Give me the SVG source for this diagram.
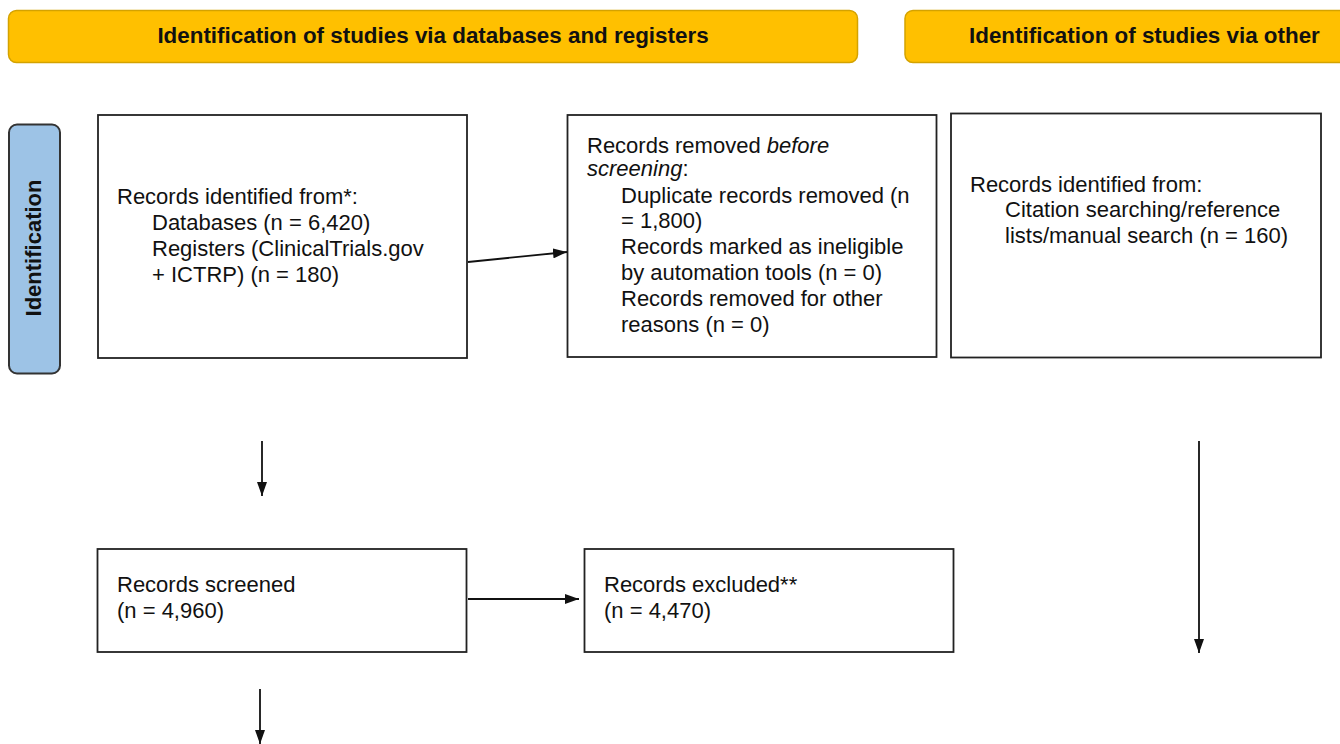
<svg xmlns="http://www.w3.org/2000/svg" width="1340" height="744" viewBox="0 0 1340 744">
<style>
.hdr{fill:#FFC000;stroke:#D4A200;stroke-width:1.5}
.side{fill:#9DC3E6;stroke:#333;stroke-width:2}
.box{fill:#fff;stroke:#222;stroke-width:1.8}
.ht{font-family:"Liberation Sans",Arial,sans-serif;font-weight:bold;font-size:22.4px;fill:#111}
.t{font-family:"Liberation Sans",Arial,sans-serif;font-size:22px;fill:#111}
.con line{stroke:#111;stroke-width:1.8;fill:none}
</style>
<defs>
<marker id="ah" viewBox="0 0 14 10" refX="14" refY="5" markerWidth="14" markerHeight="10" markerUnits="userSpaceOnUse" orient="auto">
<path d="M0,0 L14,5 L0,10 Z" fill="#111"/>
</marker>
</defs>
<rect width="1340" height="744" fill="#fff"/>
<g id="header-databases">
<rect class="hdr" x="8.5" y="10.5" width="849" height="52" rx="8"/>
<text class="ht" x="433" y="42.5" text-anchor="middle">Identification of studies via databases and registers</text>
</g>
<g id="header-other">
<rect class="hdr" x="905" y="10.5" width="460" height="52" rx="8"/>
<text class="ht" x="969" y="42.5">Identification of studies via other</text>
</g>
<g id="side-identification">
<rect class="side" x="9" y="124.5" width="51" height="249" rx="8"/>
<text class="ht" transform="translate(41,248) rotate(-90)" text-anchor="middle" style="font-size:22px">Identification</text>
</g>
<g id="records-identified">
<rect class="box" x="98" y="115" width="369" height="243"/>
<text class="t"><tspan x="117" y="204">Records identified from*:</tspan><tspan x="152" y="230">Databases (n = 6,420)</tspan><tspan x="152" y="256">Registers (ClinicalTrials.gov</tspan><tspan x="152" y="282">+ ICTRP) (n = 180)</tspan></text>
</g>
<g id="records-removed">
<rect class="box" x="567.5" y="115" width="369" height="242"/>
<text class="t"><tspan x="587" y="153">Records removed <tspan font-style="italic">before</tspan></tspan><tspan x="587" y="176" font-style="italic">screening</tspan><tspan>:</tspan><tspan x="621" y="203">Duplicate records removed (n</tspan><tspan x="621" y="228">= 1,800)</tspan><tspan x="621" y="254">Records marked as ineligible</tspan><tspan x="621" y="280">by automation tools (n = 0)</tspan><tspan x="621" y="306">Records removed for other</tspan><tspan x="621" y="332">reasons (n = 0)</tspan></text>
</g>
<g id="records-other">
<rect class="box" x="951" y="113.5" width="370" height="244"/>
<text class="t"><tspan x="970" y="192">Records identified from:</tspan><tspan x="1005" y="217">Citation searching/reference</tspan><tspan x="1005" y="243">lists/manual search (n = 160)</tspan></text>
</g>
<g id="records-screened">
<rect class="box" x="97.5" y="549" width="369" height="103"/>
<text class="t"><tspan x="117" y="592">Records screened</tspan><tspan x="117" y="618">(n = 4,960)</tspan></text>
</g>
<g id="records-excluded">
<rect class="box" x="584.5" y="549" width="369" height="103"/>
<text class="t"><tspan x="604" y="592">Records excluded**</tspan><tspan x="604" y="618">(n = 4,470)</tspan></text>
</g>
<g id="connectors" class="con">
<line x1="468" y1="262" x2="567" y2="252" marker-end="url(#ah)"/>
<line x1="262" y1="441" x2="262" y2="496" marker-end="url(#ah)"/>
<line x1="468" y1="599" x2="579" y2="599" marker-end="url(#ah)"/>
<line x1="260" y1="689" x2="260" y2="744" marker-end="url(#ah)"/>
<line x1="1199" y1="441" x2="1199" y2="653" marker-end="url(#ah)"/>
</g>
</svg>
